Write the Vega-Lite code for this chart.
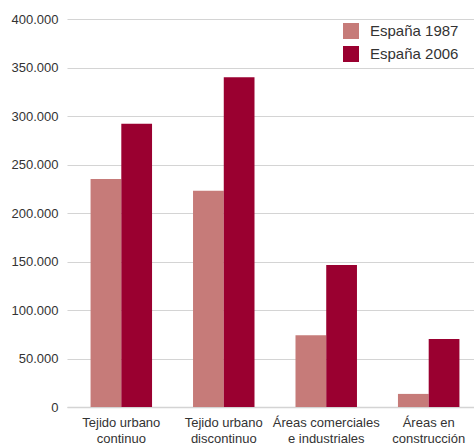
{
  "$schema": "https://vega.github.io/schema/vega-lite/v6.json",
  "width": 407,
  "height": 388,
  "autosize": {"type": "none"},
  "padding": {"left": 67, "top": 19, "right": 0, "bottom": 41},
  "background": "white",
  "config": {
    "locale": {"number": {"decimal": ",", "thousands": ".", "grouping": [3], "currency": ["", " €"]}},
    "font": "Liberation Sans",
    "view": {"stroke": null}
  },
  "data": {
    "values": [
      {"categoria": "Tejido urbano continuo", "serie": "España 1987", "valor": 235000},
      {"categoria": "Tejido urbano continuo", "serie": "España 2006", "valor": 292000},
      {"categoria": "Tejido urbano discontinuo", "serie": "España 1987", "valor": 223000},
      {"categoria": "Tejido urbano discontinuo", "serie": "España 2006", "valor": 340000},
      {"categoria": "Áreas comerciales e industriales", "serie": "España 1987", "valor": 74000},
      {"categoria": "Áreas comerciales e industriales", "serie": "España 2006", "valor": 146500},
      {"categoria": "Áreas en construcción", "serie": "España 1987", "valor": 13500},
      {"categoria": "Áreas en construcción", "serie": "España 2006", "valor": 70000}
    ]
  },
  "mark": {"type": "bar"},
  "encoding": {
    "x": {
      "field": "categoria",
      "type": "nominal",
      "sort": null,
      "scale": {"range": [0, 416], "paddingInner": 0.4, "paddingOuter": 0.23},
      "axis": {
        "title": null,
        "labelAngle": 0,
        "ticks": false,
        "domainColor": "#d4d4d4",
        "domainWidth": 1.5,
        "labelFontSize": 13,
        "labelColor": "#333333",
        "labelPadding": 9,
        "labelLineHeight": 16,
        "labelExpr": "datum.label == 'Tejido urbano continuo' ? ['Tejido urbano', 'continuo'] : datum.label == 'Tejido urbano discontinuo' ? ['Tejido urbano', 'discontinuo'] : datum.label == 'Áreas comerciales e industriales' ? ['Áreas comerciales', 'e industriales'] : ['Áreas en', 'construcción']"
      }
    },
    "xOffset": {"field": "serie", "type": "nominal", "sort": null},
    "y": {
      "field": "valor",
      "type": "quantitative",
      "scale": {"domain": [0, 400000], "nice": false},
      "axis": {
        "title": null,
        "values": [0, 50000, 100000, 150000, 200000, 250000, 300000, 350000, 400000],
        "format": ",.0f",
        "domain": false,
        "ticks": false,
        "gridColor": "#d4d4d4",
        "gridWidth": 1.2,
        "labelFontSize": 13,
        "labelColor": "#333333",
        "labelPadding": 9
      }
    },
    "color": {
      "field": "serie",
      "type": "nominal",
      "scale": {"domain": ["España 1987", "España 2006"], "range": ["#C67B79", "#9A0030"]},
      "legend": {
        "title": null,
        "orient": "none",
        "legendX": 276,
        "legendY": 4,
        "symbolType": "square",
        "symbolSize": 256,
        "symbolStrokeWidth": 0,
        "symbolOpacity": 1,
        "labelFontSize": 15,
        "labelColor": "#333333",
        "labelOffset": 11,
        "rowPadding": 7,
        "padding": 0
      }
    }
  }
}
